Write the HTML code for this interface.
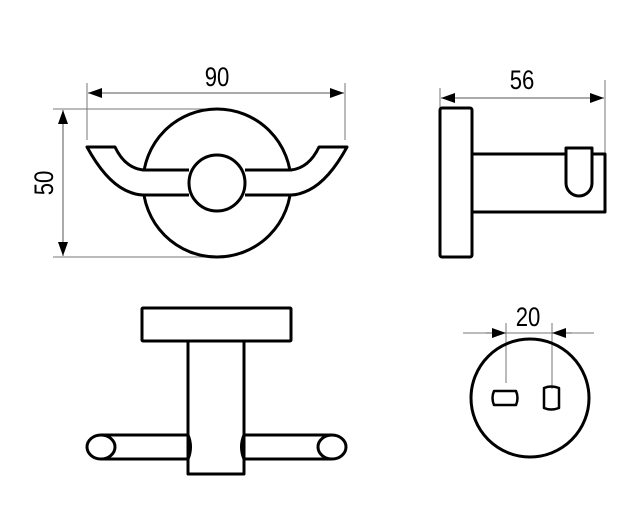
<!DOCTYPE html>
<html><head><style>html,body{margin:0;padding:0;background:#fff}svg{display:block}</style></head>
<body>
<svg width="644" height="522" viewBox="0 0 644 522" xmlns="http://www.w3.org/2000/svg">
<defs>
<marker id="a" viewBox="0 0 14 10" refX="14" refY="5" markerWidth="14" markerHeight="10" markerUnits="userSpaceOnUse" orient="auto-start-reverse"><path d="M0,0 L14,5 L0,10 Z" fill="#000"/></marker>
</defs>
<g font-family="Liberation Sans, sans-serif" font-size="27" fill="#000" text-anchor="middle">
<text transform="translate(217,86) scale(0.82,1)">90</text>
<text transform="translate(522,89) scale(0.82,1)">56</text>
<text transform="translate(528,326) scale(0.82,1)">20</text>
<text transform="translate(53,183) rotate(-90) scale(0.82,1)">50</text>
</g>
<g stroke="#777" stroke-width="1" fill="none">
<line x1="87" y1="83" x2="87" y2="140"/><line x1="345" y1="83" x2="345" y2="140"/>
<line x1="53" y1="109" x2="205" y2="109"/><line x1="53" y1="257" x2="215" y2="257"/>
<line x1="440" y1="88" x2="440" y2="108"/><line x1="605" y1="80" x2="605" y2="157"/>
<line x1="463" y1="333" x2="594" y2="333"/>
<line x1="506" y1="323" x2="506" y2="383"/><line x1="552" y1="323" x2="552" y2="389"/>
</g>
<g stroke="#555" stroke-width="1" fill="none">
<line x1="88" y1="93" x2="344" y2="93" marker-start="url(#a)" marker-end="url(#a)"/>
<line x1="63" y1="110" x2="63" y2="256" marker-start="url(#a)" marker-end="url(#a)"/>
<line x1="441" y1="98" x2="604" y2="98" marker-start="url(#a)" marker-end="url(#a)"/>
<line x1="486" y1="333" x2="506" y2="333" marker-end="url(#a)"/>
<line x1="572" y1="333" x2="552" y2="333" marker-end="url(#a)"/>
</g>
<g stroke="#000" stroke-width="3" fill="none" stroke-linejoin="round">
<circle cx="217" cy="183" r="74"/>
<path d="M189,170 L143,170 Q125,168 115,147 L87,147 Q105,180 125,190 Q135,195 143,195 L189,195" fill="#fff"/>
<path d="M245,170 L291,170 Q309,168 319,147 L347,147 Q329,180 309,190 Q299,195 291,195 L245,195" fill="#fff"/>
<circle cx="217" cy="183" r="28" fill="#fff"/>
<rect x="440" y="108" width="32" height="149" rx="2"/>
<path d="M473,154 L605,154 L605,212 L473,212"/>
<path d="M566,148 L592,148 L592,183 A13,13 0 0 1 566,183 Z" fill="#fff"/>
<rect x="142" y="308" width="149" height="33" rx="1"/>
<path d="M188,341 L188,474 L244,474 L244,341"/>
<path d="M101,435 L188,435 Q193,447 188,459 L101,459"/>
<ellipse cx="101" cy="447" rx="14" ry="12" fill="#fff"/>
<path d="M332,435 L244,435 Q239,447 244,459 L332,459"/>
<ellipse cx="332" cy="447" rx="14" ry="12" fill="#fff"/>
<circle cx="530" cy="398" r="59"/>
<path d="M494,391 L516,391 Q519,398 516,405 L494,405 Q491,398 494,391 Z" stroke-width="2.5"/>
<path d="M544,388 Q551,385 559,388 L559,408 Q551,411 544,408 Z" stroke-width="2.5"/>
</g>
</svg>
</body></html>
